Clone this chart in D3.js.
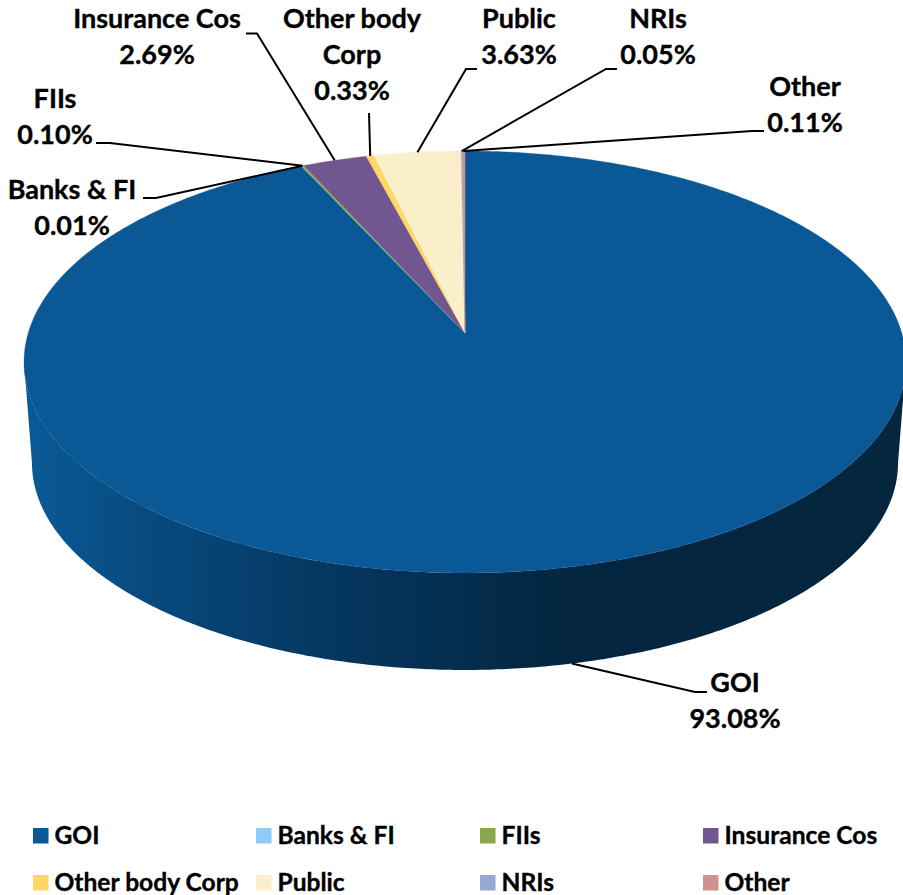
<!DOCTYPE html>
<html>
<head>
<meta charset="utf-8">
<style>html,body{margin:0;padding:0;background:#fff;overflow:hidden}svg{display:block}text{font-family:Lato,"Open Sans",sans-serif;font-weight:700;fill:#000;stroke:#000;stroke-width:0.35px}</style>
<script src="https://cdn.jsdelivr.net/npm/d3@7/dist/d3.min.js"></script>
</head>
<body>
<script>
// Data
const categories = ["GOI","Banks & FI","FIIs","Insurance Cos","Other body Corp","Public","NRIs","Other"];
const values = [93.08,0.01,0.10,2.69,0.33,3.63,0.05,0.11];
const colors = ["#0A5896","#8FCBF8","#8AA84B","#725690","#FFD766","#FBEECB","#95A9D2","#D09291"];
// Label layout: text line breaks, centre, first baseline, and leader elbow points
const labelLines = [["GOI"],["Banks & FI"],["FIIs"],["Insurance Cos"],["Other body","Corp"],["Public"],["NRIs"],["Other"]];
const labelCenters = [[735,692],[72,199],[55,108],[157,28],[352,28],[519,28],[658,28],[805,96]];
const leaderEnds = [[[707,692],[695,692]],[[143,198],[156,198]],[[96,143],[110,143]],[[246,33.5],[257,33.5]],[[369,113],[369,113]],[[477,69],[466,69]],[[617,69],[606,69]],[[764,131],[752,131]]];
const legendX = [33,256,480,703];
const legendY = [828,875];

const W=903,H=895;
const cx=465,cy=333,k=-0.1374,a=207,b=436.8,depth=101.3,shrink=0.982;
const svg=d3.select("body").append("svg").attr("width",W).attr("height",H);

// perspective projection of a pie angle (clockwise from 12 o'clock) on top or bottom face
function proj(t,bottom){
  const X=Math.sin(t),Y=-Math.cos(t),w=1+k*Y,s=bottom?shrink:1;
  return [cx+s*b*X/w, cy+(bottom?depth:0)+s*a*Y/w];
}
const line=d3.line();
const rad=d=>d*Math.PI/180;
const sweep=(t0,t1,bottom)=>{
  const n=Math.max(2,Math.ceil(Math.abs(t1-t0)/rad(0.5)));
  return d3.range(n+1).map(i=>proj(t0+(t1-t0)*i/n,bottom));
};

// side wall
const grad=svg.append("defs").append("linearGradient").attr("id","wall")
  .attr("gradientUnits","userSpaceOnUse").attr("x1",24).attr("x2",903).attr("y1",0).attr("y2",0);
[[0,"#0A5A98"],[0.16,"#07487B"],[0.36,"#05365E"],[0.62,"#03253F"],[1,"#04263F"]]
  .forEach(s=>grad.append("stop").attr("offset",s[0]).attr("stop-color",s[1]));
const tL=rad(262.1),tR=rad(97.9);
svg.append("path").attr("d",line(sweep(tR,tL,false).concat(sweep(tL,tR,true)))+"Z").attr("fill","url(#wall)");

// top slices
const arcs=d3.pie().sort(null).value(d=>d)(values);
arcs.forEach((d,i)=>{
  const pts=[[cx,cy]].concat(sweep(d.startAngle,d.endAngle,false));
  svg.append("path").attr("d",line(pts)+"Z").attr("fill",colors[i])
    .attr("stroke",colors[i]).attr("stroke-width",i===0?0.3:0.4);
});

// leaders
arcs.forEach((d,i)=>{
  const mid=(d.startAngle+d.endAngle)/2;
  const anchor=proj(mid,i===0);
  const pts=leaderEnds[i].concat([anchor]);
  svg.append("path").attr("d",line(pts)).attr("fill","none").attr("stroke","#000").attr("stroke-width",2);
});

// labels
const labelSize=27;
arcs.forEach((d,i)=>{
  const [x,y]=labelCenters[i];
  const lines=labelLines[i].concat([d.value.toFixed(2)+"%"]);
  lines.forEach((s,j)=>svg.append("text").attr("x",x).attr("y",y+j*36).attr("text-anchor","middle")
    .attr("font-size",labelSize).text(s));
});

// legend
categories.forEach((c,i)=>{
  const x=legendX[i%4],y=legendY[Math.floor(i/4)];
  svg.append("rect").attr("x",x).attr("y",y).attr("width",15.5).attr("height",15.5).attr("fill",colors[i]);
  svg.append("text").attr("x",x+21.5).attr("y",y+15.5).attr("font-size",24.6).text(c);
});
</script>
</body>
</html>
